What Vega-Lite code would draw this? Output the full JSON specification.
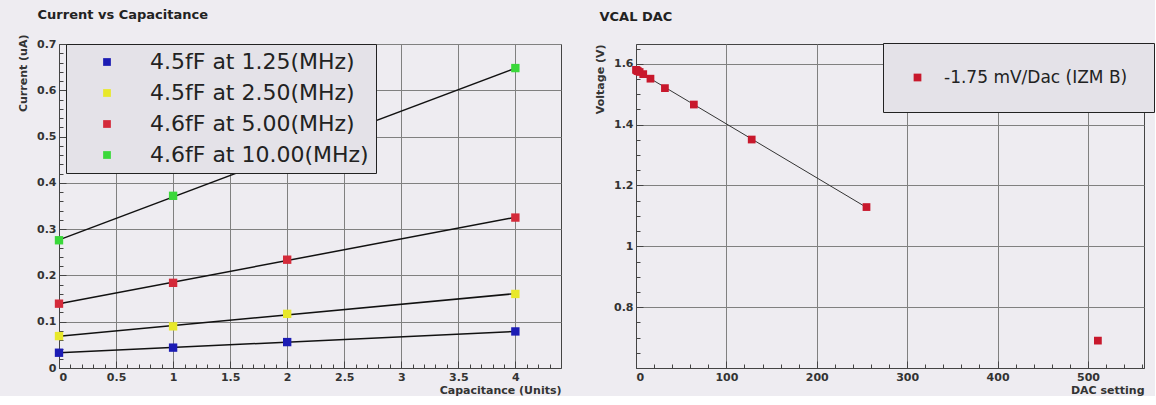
{
  "$schema": "https://vega.github.io/schema/vega-lite/v6.json",
  "background": "#EEECF1",
  "padding": {"left": 17, "top": 8, "right": 0, "bottom": 0},
  "spacing": 32,
  "config": {
    "font": "DejaVu Sans",
    "view": {"stroke": "#444", "strokeWidth": 1, "fill": "#EEECF1"},
    "axis": {
      "labelFont": "DejaVu Sans", "labelFontWeight": "bold", "labelFontSize": 11, "labelColor": "#333",
      "titleFont": "DejaVu Sans", "titleFontWeight": "bold", "titleFontSize": 11, "titleColor": "#333",
      "gridColor": "#808080", "gridWidth": 1, "gridOpacity": 1,
      "domainColor": "#444", "tickColor": "#444", "tickSize": -7, "labelPadding": 10, "format": ".2~f"
    },
    "title": {"font": "DejaVu Sans", "fontSize": 13, "fontWeight": "bold", "color": "#222", "anchor": "start"}
  },
  "resolve": {"scale": {"color": "independent"}, "legend": {"color": "independent"}},
  "hconcat": [
    {
      "title": {"text": "Current vs Capacitance", "dx": 20, "offset": 12},
      "width": 502,
      "height": 324,
      "data": {"values": [
        {"cap": 0, "current": 0.033, "series": "4.5fF at 1.25(MHz)"},
        {"cap": 1, "current": 0.044, "series": "4.5fF at 1.25(MHz)"},
        {"cap": 2, "current": 0.056, "series": "4.5fF at 1.25(MHz)"},
        {"cap": 4, "current": 0.079, "series": "4.5fF at 1.25(MHz)"},
        {"cap": 0, "current": 0.069, "series": "4.5fF at 2.50(MHz)"},
        {"cap": 1, "current": 0.090, "series": "4.5fF at 2.50(MHz)"},
        {"cap": 2, "current": 0.117, "series": "4.5fF at 2.50(MHz)"},
        {"cap": 4, "current": 0.160, "series": "4.5fF at 2.50(MHz)"},
        {"cap": 0, "current": 0.139, "series": "4.6fF at 5.00(MHz)"},
        {"cap": 1, "current": 0.184, "series": "4.6fF at 5.00(MHz)"},
        {"cap": 2, "current": 0.234, "series": "4.6fF at 5.00(MHz)"},
        {"cap": 4, "current": 0.325, "series": "4.6fF at 5.00(MHz)"},
        {"cap": 0, "current": 0.276, "series": "4.6fF at 10.00(MHz)"},
        {"cap": 1, "current": 0.372, "series": "4.6fF at 10.00(MHz)"},
        {"cap": 2, "current": 0.460, "series": "4.6fF at 10.00(MHz)"},
        {"cap": 4, "current": 0.648, "series": "4.6fF at 10.00(MHz)"}
      ]},
      "resolve": {"axis": {"x": "independent", "y": "independent"}},
      "layer": [
        {
          "transform": [{"regression": "current", "on": "cap", "groupby": ["series"], "extent": [0, 4]}],
          "mark": {"type": "line", "color": "#111", "strokeWidth": 1.5},
          "encoding": {
            "x": {"field": "cap", "type": "quantitative", "scale": {"domain": [0, 4.4], "nice": false},
                  "axis": {"orient": "bottom", "values": [0, 0.5, 1, 1.5, 2, 2.5, 3, 3.5, 4], "title": "Capacitance (Units)", "titleAnchor": "end", "titlePadding": 2}},
            "y": {"field": "current", "type": "quantitative", "scale": {"domain": [0, 0.7], "nice": false},
                  "axis": {"orient": "left", "values": [0, 0.1, 0.2, 0.3, 0.4, 0.5, 0.6, 0.7], "title": "Current (uA)", "titleAnchor": "end", "titleY": -10, "titlePadding": 8}},
            "detail": {"field": "series"}
          }
        },
        {
          "mark": {"type": "point", "shape": "square", "filled": true, "size": 70, "opacity": 1},
          "encoding": {
            "x": {"field": "cap", "type": "quantitative",
                  "axis": {"orient": "bottom", "values": [0.1, 0.2, 0.3, 0.4, 0.6, 0.7, 0.8, 0.9, 1.1, 1.2, 1.3, 1.4, 1.6, 1.7, 1.8, 1.9, 2.1, 2.2, 2.3, 2.4, 2.6, 2.7, 2.8, 2.9, 3.1, 3.2, 3.3, 3.4, 3.6, 3.7, 3.8, 3.9, 4.1, 4.2, 4.3],
                           "labels": false, "grid": false, "domain": false, "title": null, "tickSize": -4}},
            "y": {"field": "current", "type": "quantitative",
                  "axis": {"orient": "left", "values": [0.02, 0.04, 0.06, 0.08, 0.12, 0.14, 0.16, 0.18, 0.22, 0.24, 0.26, 0.28, 0.32, 0.34, 0.36, 0.38, 0.42, 0.44, 0.46, 0.48, 0.52, 0.54, 0.56, 0.58, 0.62, 0.64, 0.66, 0.68],
                           "labels": false, "grid": false, "domain": false, "title": null, "tickSize": -4}},
            "color": {"field": "series", "type": "nominal",
              "scale": {"domain": ["4.5fF at 1.25(MHz)", "4.5fF at 2.50(MHz)", "4.6fF at 5.00(MHz)", "4.6fF at 10.00(MHz)"],
                        "range": ["#1c1cb4", "#e8e82a", "#d42a3a", "#3ad83a"]},
              "legend": {"orient": "none", "legendX": 7, "legendY": 0, "title": null, "symbolType": "square", "symbolSize": 60,
                         "labelFont": "DejaVu Sans", "labelFontSize": 22, "labelColor": "#222", "labelLimit": 500,
                         "padding": 7, "symbolOffset": 23, "labelOffset": 32, "rowPadding": 9,
                         "fillColor": "#E4E2E8", "strokeColor": "#222"}}
          }
        }
      ]
    },
    {
      "title": {"text": "VCAL DAC", "dx": 5, "offset": 19},
      "width": 508,
      "height": 324,
      "data": {"values": [
        {"dac": 0, "volt": 1.580, "label": "-1.75 mV/Dac (IZM B)"},
        {"dac": 1, "volt": 1.578, "label": "-1.75 mV/Dac (IZM B)"},
        {"dac": 2, "volt": 1.576, "label": "-1.75 mV/Dac (IZM B)"},
        {"dac": 4, "volt": 1.573, "label": "-1.75 mV/Dac (IZM B)"},
        {"dac": 8, "volt": 1.566, "label": "-1.75 mV/Dac (IZM B)"},
        {"dac": 16, "volt": 1.551, "label": "-1.75 mV/Dac (IZM B)"},
        {"dac": 32, "volt": 1.520, "label": "-1.75 mV/Dac (IZM B)"},
        {"dac": 64, "volt": 1.466, "label": "-1.75 mV/Dac (IZM B)"},
        {"dac": 128, "volt": 1.351, "label": "-1.75 mV/Dac (IZM B)"},
        {"dac": 255, "volt": 1.129, "label": "-1.75 mV/Dac (IZM B)"},
        {"dac": 511, "volt": 0.690, "label": "-1.75 mV/Dac (IZM B)"}
      ]},
      "resolve": {"axis": {"x": "independent", "y": "independent"}},
      "layer": [
        {
          "transform": [{"filter": "datum.dac <= 255"}, {"regression": "volt", "on": "dac", "extent": [0, 255]}],
          "mark": {"type": "line", "color": "#333", "strokeWidth": 1},
          "encoding": {
            "x": {"field": "dac", "type": "quantitative", "scale": {"domain": [0, 562], "nice": false},
                  "axis": {"orient": "bottom", "values": [0, 100, 200, 300, 400, 500], "title": "DAC setting", "titleAnchor": "end", "titlePadding": 2}},
            "y": {"field": "volt", "type": "quantitative", "scale": {"domain": [0.6, 1.665], "nice": false, "zero": false},
                  "axis": {"orient": "left", "values": [0.8, 1, 1.2, 1.4, 1.6], "title": "Voltage (V)", "titleAnchor": "end", "titlePadding": 8}}
          }
        },
        {
          "mark": {"type": "point", "shape": "square", "filled": true, "size": 60, "opacity": 1},
          "encoding": {
            "x": {"field": "dac", "type": "quantitative",
                  "axis": {"orient": "bottom", "values": [20, 40, 60, 80, 120, 140, 160, 180, 220, 240, 260, 280, 320, 340, 360, 380, 420, 440, 460, 480, 520, 540, 560],
                           "labels": false, "grid": false, "domain": false, "title": null, "tickSize": -4}},
            "y": {"field": "volt", "type": "quantitative",
                  "axis": {"orient": "left", "values": [0.65, 0.7, 0.75, 0.85, 0.9, 0.95, 1.05, 1.1, 1.15, 1.25, 1.3, 1.35, 1.45, 1.5, 1.55, 1.65],
                           "labels": false, "grid": false, "domain": false, "title": null, "tickSize": -4}},
            "color": {"field": "label", "type": "nominal", "scale": {"range": ["#c8182c"]},
              "legend": {"orient": "none", "legendX": 247, "legendY": -1, "title": null, "symbolType": "square", "symbolSize": 60,
                         "labelFont": "DejaVu Sans", "labelFontSize": 17, "labelColor": "#222", "labelLimit": 500,
                         "padding": 26, "symbolOffset": 0, "labelOffset": 18,
                         "fillColor": "#E4E2E8", "strokeColor": "#222"}}
          }
        }
      ]
    }
  ]
}
